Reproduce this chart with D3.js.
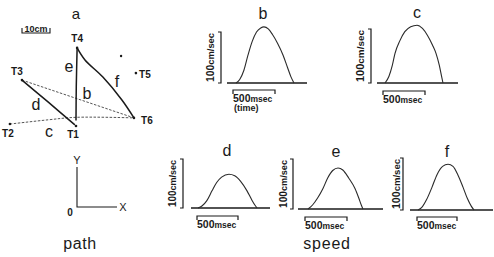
<!DOCTYPE html>
<html><head><meta charset="utf-8">
<script src="https://cdn.jsdelivr.net/npm/d3@7"></script>
<style>
html,body{margin:0;padding:0;background:#fff;}
svg{display:block;}
text{font-family:"Liberation Sans Narrow","Liberation Sans",Arial,sans-serif;fill:#1a1a1a;}
.big{font-family:"Liberation Sans",Arial,sans-serif;}
</style></head><body>
<svg id="chart" width="494" height="257"></svg>
<script>
// ---------------- data ----------------
// target positions (cm, X right, Y up, origin at T1)
const targetNames = ["T1", "T2", "T3", "T4", "T5", "T6"];
const targetX = [0, -23.6, -19.3, 0.4, 21.4, 20.7];
const targetY = [0, 0.7, 16.4, 27.9, 18.9, 2.9];
const extraDot = [16.1, 25.0];
// hand paths (cm)
const pathB = [[-19.3, 16.4], [20.7, 2.9]];
const pathC = [[-23.6, 0.7], [-10, 2.2], [0, 3.1], [20.7, 2.9]];
const pathD = [[-19.3, 16.4], [-10, 8.6], [-0.4, 0.4]];
const pathE = [[0, 2], [0.1, 14], [0.4, 27.9]];
const pathF = [[0.4, 27.9], [3.2, 23.6], [9.6, 17.5], [16.4, 9.3], [20.7, 2.9]];
// speed profiles [time ms (0 = left end of 500 ms bar), speed cm/s]
const speedB = [[36,0],[80,7],[130,25],[179,55],[230,82],[280,100],[330,108],[369,110],[420,106],[470,95],[530,78],[595,55],[650,30],[690,12],[726,0]];
const speedC = [[24,0],[70,12],[110,32],[143,55],[200,78],[260,95],[330,104],[405,107],[470,101],[530,88],[590,70],[631,55],[670,33],[695,14],[714,0]];
const speedD = [[12,0],[60,4],[120,15],[183,35],[240,52],[300,63],[390,69],[460,66],[530,55],[610,35],[670,16],[710,5],[732,0]];
const speedE = [[36,0],[90,8],[150,22],[214,41],[270,62],[330,77],[393,82],[450,78],[520,62],[595,41],[640,22],[670,8],[690,0]];
const speedF = [[12,0],[60,5],[120,20],[188,44],[250,68],[320,84],[388,88],[450,84],[510,68],[575,44],[630,22],[680,7],[713,0]];
const timeBar = [0, 500];     // ms
const speedBar = [0, 100];    // cm/s
const scaleBarCm = 10;

// ---------------- layout ----------------
const svg = d3.select("#chart");
const ink = "#1a1a1a";

// path panel
const pxPerCm = 2.8;
const ox = 76, oy = 126;
const xs = d3.scaleLinear().domain([0, 1]).range([ox, ox + pxPerCm]);
const ys = d3.scaleLinear().domain([0, 1]).range([oy, oy - pxPerCm]);
const pline = d3.line().x(d => xs(d[0])).y(d => ys(d[1])).curve(d3.curveCatmullRom);

svg.append("text").attr("class", "big").attr("x", 76).attr("y", 19).attr("text-anchor", "middle")
  .style("font-size", "15px").text("a");

// scale bar
const sb0 = 22, sb1 = sb0 + scaleBarCm * pxPerCm;
svg.append("path").attr("d", `M${sb0},28V33H${sb1}V28`).attr("fill", "none")
  .attr("stroke", ink).attr("stroke-width", 1.1);
svg.append("text").attr("x", (sb0 + sb1) / 2).attr("y", 31.5).attr("text-anchor", "middle")
  .style("font-size", "9px").style("font-weight", "bold").text(scaleBarCm + "cm");

// dashed paths
[pathB, pathC].forEach(p => svg.append("path").attr("d", pline(p)).attr("fill", "none")
  .attr("stroke", "#555").attr("stroke-width", 1).attr("stroke-dasharray", "2.5,1.5"));
// solid paths
[pathD, pathE, pathF].forEach(p => svg.append("path").attr("d", pline(p)).attr("fill", "none")
  .attr("stroke", ink).attr("stroke-width", 1.5));

// targets
const tOff = {T1: [-3, 12], T2: [-2, 13], T3: [-5, -5], T4: [0, -6], T5: [9, 5], T6: [13, 6]};
targetNames.forEach((n, i) => {
  const px = xs(targetX[i]), py = ys(targetY[i]);
  svg.append("circle").attr("cx", px).attr("cy", py).attr("r", 1.3).attr("fill", ink);
  svg.append("text").attr("x", px + tOff[n][0]).attr("y", py + tOff[n][1]).attr("text-anchor", "middle")
    .style("font-size", "10px").style("font-weight", "bold").text(n);
});
svg.append("circle").attr("cx", xs(extraDot[0])).attr("cy", ys(extraDot[1])).attr("r", 1.2).attr("fill", ink);

// path letters
const pathLabels = [["b", 87, 99], ["c", 49, 137], ["d", 36, 110], ["e", 69, 72], ["f", 117, 87]];
pathLabels.forEach(l => svg.append("text").attr("class", "big").attr("x", l[1]).attr("y", l[2]).attr("text-anchor", "middle")
  .style("font-size", "16px").text(l[0]));

// axes legend
svg.append("path").attr("d", "M77,167V207H117").attr("fill", "none").attr("stroke", ink).attr("stroke-width", 1.1);
svg.append("text").attr("x", 77).attr("y", 164).attr("text-anchor", "middle").style("font-size", "11px").text("Y");
svg.append("text").attr("x", 123).attr("y", 211).attr("text-anchor", "middle").style("font-size", "11px").text("X");
svg.append("text").attr("x", 70).attr("y", 216).attr("text-anchor", "middle").style("font-size", "10px").style("font-weight", "bold").text("0");
svg.append("text").attr("class", "big").attr("x", 80).attr("y", 249).attr("text-anchor", "middle")
  .style("font-size", "16px").style("letter-spacing", "0.6px").text("path");

// speed panels
const panels = [
  {id: "b", data: speedB, tb0: 233, tb1: 275, ax: 221, top: 32, base: 83, x0: 227, x1: 307, lx: 263, ly: 19, tby: 90, yl: 210, time: true},
  {id: "c", data: speedC, tb0: 383, tb1: 425, ax: 371, top: 29, base: 83, x0: 377, x1: 458, lx: 417, ly: 18, tby: 91, yl: 360},
  {id: "d", data: speedD, tb0: 197, tb1: 238, ax: 183, top: 159, base: 208, x0: 191, x1: 270, lx: 227, ly: 156, tby: 216, yl: 172},
  {id: "e", data: speedE, tb0: 305, tb1: 347, ax: 293, top: 159, base: 209, x0: 298, x1: 383, lx: 336, ly: 157, tby: 217, yl: 283},
  {id: "f", data: speedF, tb0: 417, tb1: 457, ax: 403, top: 158, base: 210, x0: 410, x1: 493, lx: 447, ly: 157, tby: 217, yl: 396}
];

panels.forEach(p => {
  const g = svg.append("g");
  const x = d3.scaleLinear().domain(timeBar).range([p.tb0, p.tb1]);
  const y = d3.scaleLinear().domain(speedBar).range([p.base, p.top]);
  g.append("text").attr("class", "big").attr("x", p.lx).attr("y", p.ly).attr("text-anchor", "middle").style("font-size", "16px").text(p.id);
  // baseline
  g.append("line").attr("x1", p.x0).attr("x2", p.x1).attr("y1", y(0)).attr("y2", y(0))
    .attr("stroke", ink).attr("stroke-width", 1.4);
  // speed curve
  const line = d3.line().x(d => x(d[0])).y(d => y(d[1])).curve(d3.curveMonotoneX);
  g.append("path").attr("d", line(p.data)).attr("fill", "none").attr("stroke", "#2a2a2a").attr("stroke-width", 1.1);
  // speed scale bracket
  g.append("path").attr("d", `M${p.ax - 3},${y(speedBar[1])}H${p.ax}V${y(speedBar[0])}H${p.ax - 3}`)
    .attr("fill", "none").attr("stroke", ink).attr("stroke-width", 1.2);
  const t = g.append("text").attr("transform", `translate(${p.yl},${(p.top + p.base) / 2}) rotate(-90)`)
    .attr("text-anchor", "middle").attr("dy", "0.35em").style("font-size", "10.5px").style("font-weight", "bold")
    .attr("textLength", (p.base - p.top) - 2).attr("lengthAdjust", "spacingAndGlyphs");
  t.append("tspan").text("100");
  t.append("tspan").style("font-size", "9.5px").text("cm/sec");
  // time bar
  g.append("path").attr("d", `M${x(timeBar[0])},${p.tby + 4}V${p.tby}H${x(timeBar[1])}V${p.tby + 4}`)
    .attr("fill", "none").attr("stroke", ink).attr("stroke-width", 1.2);
  const tt = g.append("text").attr("x", x(timeBar[0])).attr("y", p.tby + 12).style("font-size", "10.5px").style("font-weight", "bold");
  tt.append("tspan").text("500");
  tt.append("tspan").style("font-size", "8.5px").text("msec");
  if (p.time) g.append("text").attr("x", x(timeBar[0]) + 1).attr("y", p.tby + 21).style("font-size", "9px").style("font-weight", "bold").text("(time)");
});

svg.append("text").attr("class", "big").attr("x", 327).attr("y", 249).attr("text-anchor", "middle")
  .style("font-size", "16px").style("letter-spacing", "0.8px").text("speed");
</script>
</body></html>
